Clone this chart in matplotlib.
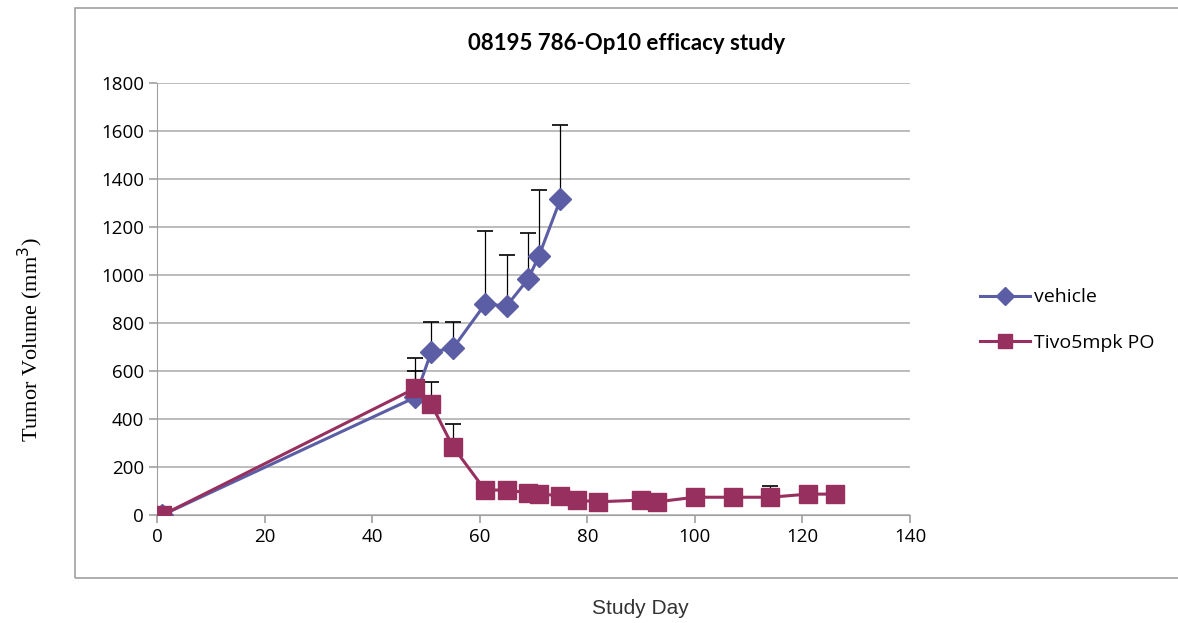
import matplotlib.pyplot as plt
from matplotlib.patches import Rectangle
from matplotlib.lines import Line2D

# Data
veh_day = [1, 48, 51, 55, 61, 65, 69, 71, 75]
veh_vol = [0, 490, 680, 694, 879, 871, 983, 1079, 1315]
veh_err = [0, 165, 125, 111, 304, 212, 193, 275, 310]

tivo_day = [1, 48, 51, 55, 61, 65, 69, 71, 75, 78, 82, 90, 93, 100, 107, 114, 121, 126]
tivo_vol = [0, 528, 462, 285, 104, 104, 92, 88, 80, 62, 55, 62, 55, 74, 74, 74, 87, 87]
tivo_err = [0, 70, 91, 93, 30, 28, 0, 0, 0, 0, 0, 0, 0, 0, 0, 48, 0, 0]

veh_color = '#5b5ea5'
tivo_color = '#97305e'

fig = plt.figure(figsize=(11.78, 6.23), dpi=100)
ax = fig.add_axes([157 / 1178, 1 - 515 / 623, 753 / 1178, 432 / 623])

# chart frame (Excel-style border)
fig.patches.append(Rectangle((75 / 1178, 1 - 578 / 623), 1.2, 570 / 623,
                             transform=fig.transFigure, fill=False,
                             edgecolor='#a0a0a0', linewidth=1.2))

ax.errorbar(veh_day, veh_vol, yerr=[[0] * len(veh_err), veh_err], fmt='none',
            ecolor='black', elinewidth=0.9, capsize=6, capthick=1.2, zorder=2)
ax.errorbar(tivo_day, tivo_vol, yerr=[[0] * len(tivo_err), tivo_err], fmt='none',
            ecolor='black', elinewidth=0.9, capsize=6, capthick=1.2, zorder=2)
ax.plot(veh_day, veh_vol, color=veh_color, lw=2.2, marker='D', ms=11,
        label='vehicle', zorder=3)
ax.plot(tivo_day, tivo_vol, color=tivo_color, lw=2.2, marker='s', ms=13,
        label='Tivo5mpk PO', zorder=4)

ax.set_xlim(0, 140)
ax.set_ylim(0, 1800)
ax.set_xticks(range(0, 141, 20))
ax.set_yticks(range(0, 1801, 200))
ax.grid(axis='y', color='#b0b0b0', lw=1.2)
ax.set_axisbelow(True)
for s in ['top', 'right']:
    ax.spines[s].set_visible(False)
ax.spines['left'].set_color('#a0a0a0')
ax.spines['bottom'].set_color('#a0a0a0')
ax.tick_params(axis='both', colors='#a0a0a0', labelcolor='black', labelsize=13.5,
               length=6, width=1.2)
for lab in ax.get_xticklabels() + ax.get_yticklabels():
    lab.set_family('Open Sans')

fig.text(627 / 1178, 1 - 43 / 623, '08195 786-Op10 efficacy study', ha='center',
         va='center', fontsize=16, fontweight='bold', family='Lato')
fig.text(30 / 1178, 1 - 340 / 623, 'Tumor Volume (mm$^3$)', rotation=90,
         ha='center', va='center', fontsize=16, family='Liberation Serif')
fig.text(640 / 1178, 1 - 608 / 623, 'Study Day', ha='center', va='center',
         fontsize=15, family='Liberation Sans', color='#333333')

handles = [Line2D([], [], color=veh_color, lw=2.2, marker='D', ms=9),
           Line2D([], [], color=tivo_color, lw=2.2, marker='s', ms=10)]
fig.legend(handles, ['vehicle', 'Tivo5mpk PO'], loc='center left',
           bbox_to_anchor=(962 / 1178, 1 - 320 / 623), frameon=False,
           prop={'family': 'Open Sans', 'size': 14}, handlelength=2.6,
           handletextpad=0.2, labelspacing=1.4)

plt.savefig('out.png', dpi=100)
